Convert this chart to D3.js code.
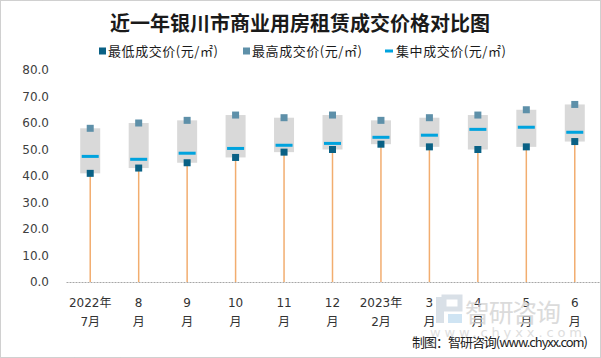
<!DOCTYPE html>
<html><head><meta charset="utf-8">
<script src="https://cdn.jsdelivr.net/npm/d3@7/dist/d3.min.js"></script>
<style>body{margin:0;background:#fff}svg{display:block}</style>
</head><body><svg id="c" width="601" height="358"></svg>
<script>
const categories = [["2022年","7月"],["8","月"],["9","月"],["10","月"],["11","月"],["12","月"],["2023年","2月"],["3","月"],["4","月"],["5","月"],["6","月"]];
const minPrice = [41.0, 43.0, 45.0, 47.0, 49.0, 50.0, 52.0, 51.0, 50.0, 51.0, 53.0];
const maxPrice = [58.0, 60.0, 61.0, 63.0, 62.0, 63.0, 61.0, 62.0, 63.0, 65.0, 67.0];
const midPrice = [47.4, 46.3, 48.6, 50.4, 51.6, 52.3, 54.6, 55.4, 57.6, 58.4, 56.5];
const yTicks = [0, 10, 20, 30, 40, 50, 60, 70, 80];
const legendLabels = ["最低成交价(元/㎡)", "最高成交价(元/㎡)", "集中成交价(元/㎡)"];
const title = "近一年银川市商业用房租赁成交价格对比图";

const svg = d3.select("#c");
const cjk = "'Noto Sans CJK SC', sans-serif";
const num = "'DejaVu Sans', 'Noto Sans CJK SC', sans-serif";
const cMin = "#0a6185", cMax = "#5e90a9", cMid = "#00a3de", cBox = "#d9d9d9", cStem = "#f2ad6f";

svg.append("rect").attr("x",0.5).attr("y",0.5).attr("width",600).attr("height",357)
  .attr("fill","#fff").attr("stroke","#a0a0a0").attr("stroke-dasharray","1,1");

const x = d3.scaleBand().domain(d3.range(categories.length)).range([66, 599]);
const y = d3.scaleLinear().domain([0, 80]).range([282, 70]);
const cx = i => x(i) + x.bandwidth()/2;

// title
svg.append("text").attr("x", 300).attr("y", 31).attr("text-anchor","middle")
  .attr("font-family", cjk).attr("font-weight","bold").attr("font-size", 20)
  .attr("fill","#1a1a1a").text(title);

// legend
const lg = svg.append("g").attr("font-family", cjk).attr("font-size", 13).attr("fill","#1a1a1a");
const lx = [99, 243, 385];
lg.append("rect").attr("x", lx[0]).attr("y", 47.5).attr("width",7).attr("height",7).attr("fill", cMin);
lg.append("rect").attr("x", lx[1]).attr("y", 47.5).attr("width",7).attr("height",7).attr("fill", cMax);
lg.append("rect").attr("x", lx[2]).attr("y", 49.5).attr("width",8).attr("height",3).attr("fill", cMid);
[108, 252, 396].forEach((tx, i) => {
  lg.append("text").attr("x", tx).attr("y", 55.5).attr("textLength", 110)
    .attr("lengthAdjust","spacing").text(legendLabels[i]);
});

// y axis
const yAxis = d3.axisLeft(y).tickValues(yTicks).tickFormat(d3.format(".1f")).tickSize(0).tickPadding(0);
const ya = svg.append("g").attr("transform","translate(49,0)").call(yAxis);
ya.select(".domain").remove();
ya.selectAll("text").attr("font-family", num).attr("font-size", 12).attr("fill","#404040");

// x axis line
const xAxis = d3.axisBottom(x).tickSize(0).tickFormat("");
const xa = svg.append("g").attr("transform", `translate(0,${y(0)})`).call(xAxis);
xa.select(".domain").attr("stroke","#a6a6a6").attr("stroke-width",1.2).attr("stroke-dasharray","2,1");

// x labels
const xl = svg.append("g").attr("font-family", num).attr("font-size", 12).attr("fill","#333").attr("text-anchor","middle");
categories.forEach((c, i) => {
  xl.append("text").attr("x", cx(i)).attr("y", 307).text(c[0]);
  xl.append("text").attr("x", cx(i)).attr("y", 326).text(c[1]);
});

// watermark
const wm = svg.append("g").attr("opacity", 0.75);
wm.append("rect").attr("x",436).attr("y",297).attr("width",8).attr("height",26).attr("fill","#cdd6e0");
wm.append("rect").attr("x",444).attr("y",297).attr("width",16).attr("height",12).attr("fill","none").attr("stroke","#cdd6e0").attr("stroke-width",5);
wm.append("rect").attr("x",448).attr("y",314).attr("width",14).attr("height",9).attr("fill","#c0dcf0");
wm.append("text").attr("x",465).attr("y",322).attr("font-family",cjk).attr("font-size",25)
  .attr("fill","#cfcfcf").attr("textLength",96).text("智研咨询");
wm.append("text").attr("x",430).attr("y",337).attr("font-family",num).attr("font-size",13)
  .attr("fill","#d4d4d4").attr("textLength",152).attr("lengthAdjust","spacing").text("www.chyxx.com");

// stems
svg.append("g").selectAll("line").data(minPrice).join("line")
  .attr("x1",(d,i)=>cx(i)).attr("x2",(d,i)=>cx(i))
  .attr("y1", y(0)).attr("y2", d=>y(d))
  .attr("stroke", cStem).attr("stroke-width", 1.5);

// boxes
svg.append("g").selectAll("rect").data(minPrice).join("rect")
  .attr("x",(d,i)=>cx(i)-10).attr("width",20)
  .attr("y",(d,i)=>y(maxPrice[i])).attr("height",(d,i)=>y(d)-y(maxPrice[i]))
  .attr("fill", cBox);

// mid lines
svg.append("g").selectAll("rect").data(midPrice).join("rect")
  .attr("x",(d,i)=>cx(i)-8.5).attr("width",17)
  .attr("y",d=>y(d)-1.5).attr("height",3).attr("fill", cMid);

// markers
svg.append("g").selectAll("rect").data(maxPrice).join("rect")
  .attr("x",(d,i)=>cx(i)-3.5).attr("y",d=>y(d)-3.5).attr("width",7).attr("height",7).attr("fill", cMax);
svg.append("g").selectAll("rect").data(minPrice).join("rect")
  .attr("x",(d,i)=>cx(i)-3.5).attr("y",d=>y(d)-3.5).attr("width",7).attr("height",7).attr("fill", cMin);

// x labels overlay of watermark is fine; source note
svg.append("text").attr("x",588).attr("y",347).attr("text-anchor","end")
  .attr("font-family",cjk).attr("font-size",13).attr("fill","#222")
  .attr("textLength",176).attr("lengthAdjust","spacing").text("制图：智研咨询(www.chyxx.com)");
</script></body></html>
